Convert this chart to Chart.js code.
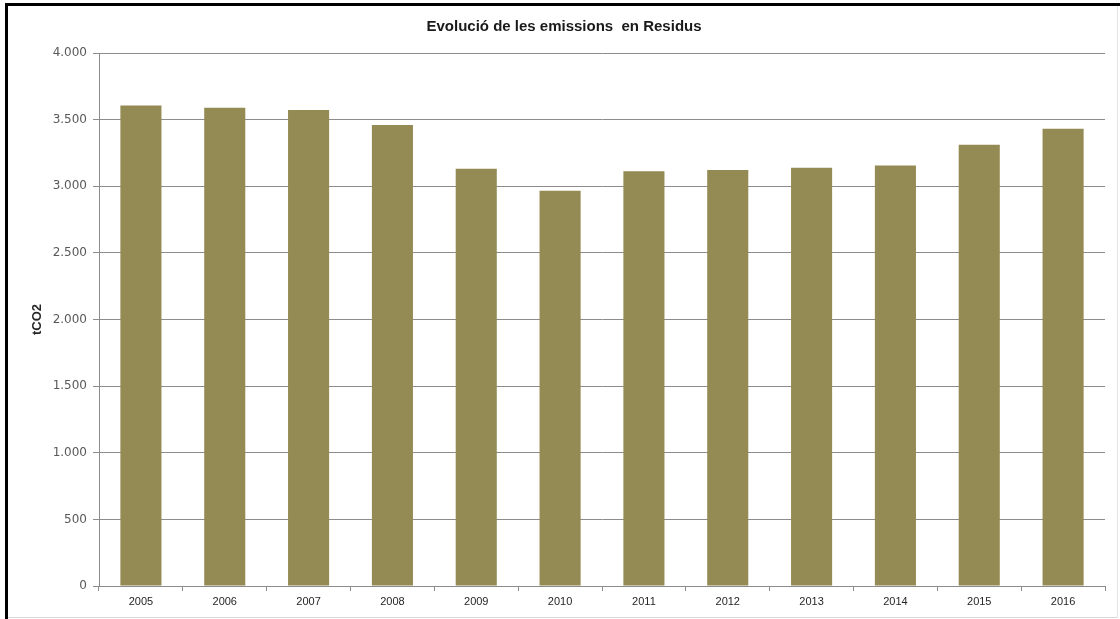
<!DOCTYPE html>
<html>
<head>
<meta charset="utf-8">
<script src="https://cdn.jsdelivr.net/npm/chart.js@4/dist/chart.umd.min.js"></script>
<style>
html,body{margin:0;padding:0;background:#fff;}
#wrap{position:relative;width:1120px;height:619px;overflow:hidden;background:#fff;}
#c{position:absolute;left:0;top:0;}
.b{position:absolute;pointer-events:none;}
</style>
</head>
<body>
<div id="wrap">
<canvas id="c" width="1120" height="619"></canvas>
<div class="b" style="left:5px;top:3px;width:1115px;height:3px;background:#000"></div>
<div class="b" style="left:5px;top:3px;width:3px;height:616px;background:#000"></div>
<div class="b" style="left:8px;top:617px;width:1110px;height:1px;background:#d9d9d9"></div>
<div class="b" style="left:1117px;top:6px;width:1px;height:612px;background:#e3e3e3"></div>
</div>
<script>
const years = ['2005','2006','2007','2008','2009','2010','2011','2012','2013','2014','2015','2016'];
const emissions = [3606, 3589, 3572, 3459, 3131, 2966, 3113, 3122, 3139, 3156, 3311, 3432];
const chartTitle = 'Evolució de les emissions  en Residus';
const yAxisTitle = 'tCO2';

function fmt(v){
  return String(v).replace(/\B(?=(\d{3})+(?!\d))/g, '.');
}

new Chart(document.getElementById('c'), {
  type: 'bar',
  data: {
    labels: years,
    datasets: [{
      label: yAxisTitle,
      data: emissions,
      backgroundColor: '#948A54',
      borderWidth: 0,
      categoryPercentage: 1.0,
      barPercentage: 0.49
    }]
  },
  options: {
    responsive: false,
    animation: false,
    layout: { padding: { left: 23, right: 15, top: 0, bottom: 0 } },
    plugins: {
      legend: { display: false },
      tooltip: { enabled: false },
      title: {
        display: true,
        text: chartTitle,
        color: '#1a1a1a',
        font: { family: '"Liberation Sans", Arial, sans-serif', size: 15, weight: 'bold' },
        padding: { top: 18, bottom: 17 }
      }
    },
    scales: {
      x: {
        offset: true,
        grid: {
          display: true,
          offset: true,
          drawOnChartArea: false,
          drawTicks: true,
          tickLength: 5,
          color: '#8c8c8c'
        },
        border: { display: true, color: '#8c8c8c', width: 1 },
        ticks: {
          color: '#262626',
          padding: 4,
          maxRotation: 0,
          font: { family: '"Liberation Sans", Arial, sans-serif', size: 11 }
        },
        afterFit: function(scale){ scale.height = 33; }
      },
      y: {
        min: 0,
        max: 4000,
        ticks: {
          stepSize: 500,
          color: '#595959',
          padding: 6,
          font: { family: '"DejaVu Sans", sans-serif', size: 12 },
          callback: function(v){ return fmt(v); }
        },
        grid: {
          color: '#8c8c8c',
          lineWidth: 1,
          tickLength: 6,
          drawTicks: true
        },
        border: { display: true, color: '#8c8c8c', width: 1 },
        title: {
          display: true,
          text: yAxisTitle,
          color: '#262626',
          font: { family: '"Liberation Sans", Arial, sans-serif', size: 13, weight: 'bold' },
          padding: { top: 7, bottom: 0 }
        },
        afterFit: function(scale){ scale.width = 76; }
      }
    }
  }
});
</script>
</body>
</html>
